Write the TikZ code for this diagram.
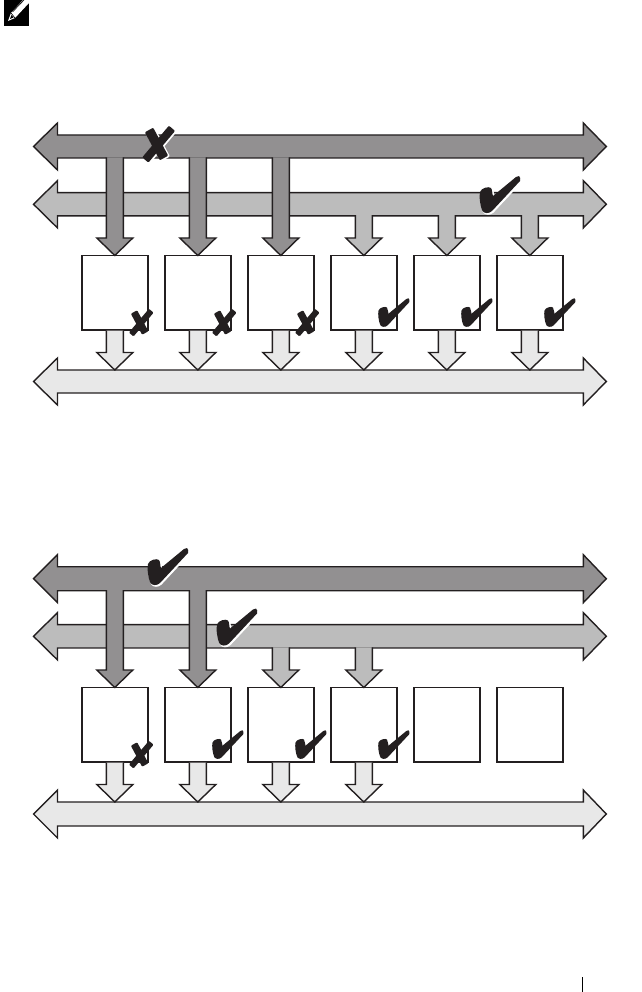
\documentclass[tikz,border=0pt]{standalone}
\usetikzlibrary{calc}
\definecolor{inkline}{HTML}{231F20}
\definecolor{busdark}{HTML}{929091}
\definecolor{busmid}{HTML}{BCBCBC}
\definecolor{buslight}{HTML}{E8E8E8}
\tikzset{
  busline/.style = {draw = inkline, line width = 1.4pt, line join = miter},
  cpubox/.style = {rectangle, draw = inkline, fill = white, line width = 1.4pt,
                   inner sep = 0pt, outer sep = 0pt,
                   minimum width = 66pt, minimum height = 74.5pt},
  buslane/.style = {rectangle, inner sep = 0pt, outer sep = 0pt,
                    minimum width = 525.8pt}
}
% long arrow round an empty node
\newcommand{\busarrow}[2]{
  \draw [busline, fill = #1]
    let \p1 = (#2.south west), \p2 = (#2.north east), \p3 = (#2.center) in
    (\x1,\y2) -- (\x2,\y2) -- (\x2,\y2+12pt) -- (\x2+23pt,\y3)
    -- (\x2,\y1-12pt) -- (\x2,\y1) -- (\x1,\y1) -- (\x1,\y1-12pt)
    -- (\x1-24pt,\y3) -- (\x1,\y2+12pt) -- cycle;
}
% short arrow going down, open at its top
\newcommand{\droparrow}[4]{
  \draw [busline, fill = #1]
    let \p1 = #2, \p2 = #3 in
    (\x1-8.5pt,\y1+#4) -- (\x1-8.5pt,\y2+17.5pt) -- (\x1-18pt,\y2+17.5pt)
    -- (\x1,\y2) -- (\x1+18pt,\y2+17.5pt) -- (\x1+8.5pt,\y2+17.5pt)
    -- (\x1+8.5pt,\y1+#4);
}
\newcommand{\tickpath}{(39,0) .. controls (40.5,0.5) and (40.5,3.5) .. (40,5)
  -- (12,35) .. controls (9,38) and (4,37.5) .. (2.5,35)
  .. controls (0,30) and (-1,20) .. (0,16)
  .. controls (1,12) and (9,10) .. (11,12)
  .. controls (12.5,14) and (12,18) .. (13,20)
  -- (36,1) .. controls (37,0.2) and (38,-0.2) .. (39,0) -- cycle}
\newcommand{\crosspath}{[rounded corners = 1pt]
  (-12.2,-11.7) -- (-3.8,-16.3) -- (11.2,11.7) -- (2.8,16.3) -- cycle
  (11.9,-18.3) -- (18.1,-13.1) -- (-8.6,18.6) -- (-14.8,13.4) -- cycle}
\newcommand{\bigtick}[1]{
  \begin{scope}[shift = {#1}]
    \draw [white, fill = white, line width = 1pt, shift = {(1.2,1.2)}] \tickpath;
    \fill [inkline] \tickpath;
  \end{scope}
}
\newcommand{\smalltick}[1]{
  \begin{scope}[shift = {(#1.south east)}, shift = {(-18.3,-31.7)}, scale = .77]
    \fill [inkline] \tickpath;
  \end{scope}
}
\newcommand{\smallcross}[1]{
  \begin{scope}[shift = {(#1.south east)}, shift = {(-7.8,-7.5)}, scale = .75]
    \fill [inkline] \crosspath;
  \end{scope}
}
\begin{document}
\begin{tikzpicture}[x = 1pt, y = -1pt]
  \useasboundingbox (0,0) rectangle (641,992);

  % note icon
  \fill [black] (4,0) rectangle (29,26);
  \fill [white] (8,21) -- (11,13) -- (23,0) -- (29,0) -- (29,3) -- (15,18) -- cycle;
  \draw [black, line width = .6pt] (11,13) -- (15,18) (12.5,12) -- (24,0);
  \fill [black] (10,19) -- (11.5,15) -- (13.5,17.5) -- cycle;

  % upper drawing
  \node [buslane, minimum height = 23pt] (busa) at (320.4,146.5) {};
  \node [buslane, minimum height = 23.3pt] (busb) at (320.4,204.3) {};
  \node [buslane, minimum height = 23pt] (busc) at (320.4,381.5) {};
  \foreach \i/\xpos in {1/114.8,2/197.8,3/280.8,4/363.8,5/446.8,6/529.8}
    \node [cpubox] (boxa\i) at (\xpos,292.75) {};
  \busarrow{busmid}{busb}
  \busarrow{busdark}{busa}
  \busarrow{buslight}{busc}
  \foreach \i in {4,5,6} {
    \droparrow{busmid}{(boxa\i.north |- busb.south)}{(boxa\i.north)}{.7pt}
  }
  \foreach \i in {1,2,3} {
    \droparrow{busdark}{(boxa\i.north |- busa.south)}{(boxa\i.north)}{.7pt}
  }
  \foreach \i in {1,...,6} {
    \droparrow{buslight}{(boxa\i.south)}{(boxa\i.south |- busc.north)}{-.7pt}
  }
  \begin{scope}[shift = {(157,144)}]
    \draw [white, fill = white, line width = 1pt, shift = {(1.2,.6)}] \crosspath;
    \fill [inkline] \crosspath;
  \end{scope}
  \bigtick{(480,176)}
  \foreach \i in {1,2,3} {
    \smallcross{boxa\i}
  }
  \foreach \i in {4,5,6} {
    \smalltick{boxa\i}
  }

  % lower drawing
  \node [buslane, minimum height = 24pt] (busd) at (320.4,578.7) {};
  \node [buslane, minimum height = 23.3pt] (buse) at (320.4,636.3) {};
  \node [buslane, minimum height = 24pt] (busf) at (320.4,814) {};
  \foreach \i/\xpos in {1/114.8,2/197.8,3/280.8,4/363.8,5/446.8,6/529.8}
    \node [cpubox] (boxb\i) at (\xpos,724.75) {};
  \busarrow{busmid}{buse}
  \busarrow{busdark}{busd}
  \busarrow{buslight}{busf}
  \foreach \i in {3,4} {
    \droparrow{busmid}{(boxb\i.north |- buse.south)}{(boxb\i.north)}{.7pt}
  }
  \foreach \i in {1,2} {
    \droparrow{busdark}{(boxb\i.north |- busd.south)}{(boxb\i.north)}{.7pt}
  }
  \foreach \i in {1,...,4} {
    \droparrow{buslight}{(boxb\i.south)}{(boxb\i.south |- busf.north)}{-.7pt}
  }
  \bigtick{(148,548)}
  \bigtick{(217,608.5)}
  \smallcross{boxb1}
  \foreach \i in {2,3,4} {
    \smalltick{boxb\i}
  }

  % page mark
  \draw [black, line width = 1pt] (582.5,977) -- (582.5,992);
\end{tikzpicture}
\end{document}
